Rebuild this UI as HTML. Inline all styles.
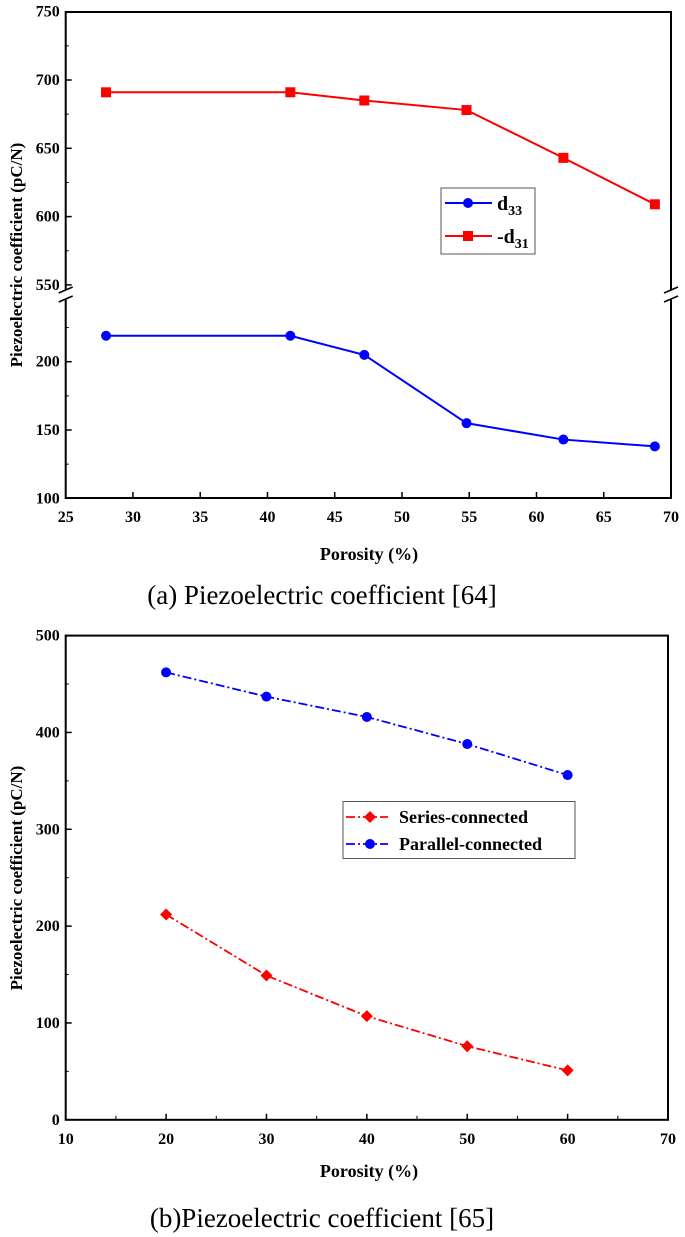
<!DOCTYPE html>
<html><head><meta charset="utf-8"><style>
html,body{margin:0;padding:0;background:#fff;}
svg{display:block;font-family:"Liberation Serif",serif;}
.tk{font-weight:bold;font-size:16px;}
</style></head><body>
<svg id="s" width="685" height="1237" viewBox="0 0 685 1237"></svg>
<script>
// Chart A data
const aX = [28, 41.7, 47.2, 54.8, 62, 68.8];
const aD31 = [691, 691, 685, 678, 643, 609];
const aD33 = [219, 219, 205, 155, 143, 138];
const aXTicks = [25,30,35,40,45,50,55,60,65,70];
const aYTicksUpper = [550,600,650,700,750];
const aYTicksLower = [100,150,200];
// Chart B data
const bX = [20,30,40,50,60];
const bParallel = [462,437,416,388,356];
const bSeries = [212,149,107,76,51];
const bXTicks = [10,20,30,40,50,60,70];
const bYTicks = [0,100,200,300,400,500];

const NS='http://www.w3.org/2000/svg';
const svg=document.getElementById('s');
function el(t,a,p){const e=document.createElementNS(NS,t);for(const k in a)e.setAttribute(k,a[k]);(p||svg).appendChild(e);return e;}
function txt(s,a,p){const e=el('text',a,p);e.textContent=s;return e;}

// ---------- Chart A ----------
const A={l:65.7,r:671,t:12,b:498};
const ax=v=>A.l+(v-25)/45*(A.r-A.l);
const ayU=v=>80+(700-v)*68.3/50;
const ayL=v=>361.7+(200-v)*68.3/50;
const gA=el('g',{});


const fa=el('rect',{x:A.l,y:A.t,width:A.r-A.l,height:A.b-A.t,fill:'none',stroke:'#000','stroke-width':2},gA);


el('rect',{x:A.l-8,y:290,width:A.r-A.l+16,height:9,fill:'#fff'},gA);
[A.l,A.r].forEach(x=>{
  el('line',{x1:x-7,y1:293,x2:x+7,y2:287,stroke:'#000','stroke-width':1.5},gA);
  el('line',{x1:x-7,y1:302,x2:x+7,y2:296,stroke:'#000','stroke-width':1.5},gA);
});
aXTicks.forEach(v=>{
  el('line',{x1:ax(v),y1:A.b,x2:ax(v),y2:A.b-6,stroke:'#000','stroke-width':1.5},gA);
  const t=txt(v,{x:ax(v),y:A.b+24,'text-anchor':'middle',class:'tk'},gA);
  
  
});
aYTicksUpper.forEach(v=>{
  el('line',{x1:A.l,y1:ayU(v),x2:A.l+6,y2:ayU(v),stroke:'#000','stroke-width':1.5},gA);
  if(v<750) el('line',{x1:A.l,y1:ayU(v+25),x2:A.l+3,y2:ayU(v+25),stroke:'#000','stroke-width':1},gA);
  const t=txt(v,{x:A.l-6,y:ayU(v)+5,'text-anchor':'end',class:'tk'},gA);
  
  
});
aYTicksLower.forEach(v=>{
  el('line',{x1:A.l,y1:ayL(v),x2:A.l+6,y2:ayL(v),stroke:'#000','stroke-width':1.5},gA);
  el('line',{x1:A.l,y1:ayL(v+25),x2:A.l+3,y2:ayL(v+25),stroke:'#000','stroke-width':1},gA);
  const t=txt(v,{x:A.l-6,y:ayL(v)+5,'text-anchor':'end',class:'tk'},gA);
  
  
});
const d31=el('polyline',{points:aX.map((x,i)=>ax(x)+','+ayU(aD31[i])).join(' '),fill:'none',stroke:'#f00','stroke-width':2},gA);


aX.forEach((x,i)=>{
  const m=el('rect',{x:ax(x)-5,y:ayU(aD31[i])-5,width:10,height:10,fill:'#f00'},gA);
  
  
});
const d33=el('polyline',{points:aX.map((x,i)=>ax(x)+','+ayL(aD33[i])).join(' '),fill:'none',stroke:'#00f','stroke-width':2},gA);


aX.forEach((x,i)=>{
  const m=el('circle',{cx:ax(x),cy:ayL(aD33[i]),r:5,fill:'#00f'},gA);
  
  
});
const lgA=el('g',{},gA);


el('rect',{x:441,y:188,width:94,height:66,fill:'#fff',stroke:'#555','stroke-width':1},lgA);
el('line',{x1:445,y1:203,x2:492,y2:203,stroke:'#00f','stroke-width':2},lgA);
el('circle',{cx:468,cy:203,r:5,fill:'#00f'},lgA);
const la1=txt('',{x:497,y:210,'font-weight':'bold','font-size':20},lgA);
la1.innerHTML='d<tspan dy="5" font-size="14">33</tspan>';
el('line',{x1:445,y1:236,x2:492,y2:236,stroke:'#f00','stroke-width':2},lgA);
el('rect',{x:463,y:231,width:10,height:10,fill:'#f00'},lgA);
const la2=txt('',{x:497,y:243,'font-weight':'bold','font-size':20},lgA);
la2.innerHTML='-d<tspan dy="5" font-size="14">31</tspan>';
const yta=txt('Piezoelectric coefficient (pC/N)',{x:0,y:0,transform:'translate(22,255) rotate(-90)','text-anchor':'middle','font-weight':'bold','font-size':17},gA);


const xta=txt('Porosity (%)',{x:369,y:560,'text-anchor':'middle','font-weight':'bold','font-size':18},gA);


const ca=txt('(a) Piezoelectric coefficient [64]',{x:322,y:604,'text-anchor':'middle','font-size':27},gA);



// ---------- Chart B ----------
const B={l:65.7,r:668,t:635.6,b:1119.8};
const bx=v=>B.l+(v-10)/60*(B.r-B.l);
const by=v=>B.b-v/500*(B.b-B.t);
const gB=el('g',{});


const fb=el('rect',{x:B.l,y:B.t,width:B.r-B.l,height:B.b-B.t,fill:'none',stroke:'#000','stroke-width':2},gB);


bXTicks.forEach(v=>{
  el('line',{x1:bx(v),y1:B.b,x2:bx(v),y2:B.b-6,stroke:'#000','stroke-width':1.5},gB);
  if(v<70) el('line',{x1:bx(v+5),y1:B.b,x2:bx(v+5),y2:B.b-4,stroke:'#000','stroke-width':1},gB);
  const t=txt(v,{x:bx(v),y:B.b+24,'text-anchor':'middle',class:'tk'},gB);
  
  
});
bYTicks.forEach(v=>{
  el('line',{x1:B.l,y1:by(v),x2:B.l+6,y2:by(v),stroke:'#000','stroke-width':1.5},gB);
  if(v<500) el('line',{x1:B.l,y1:by(v+50),x2:B.l+3,y2:by(v+50),stroke:'#000','stroke-width':1},gB);
  const t=txt(v,{x:B.l-6,y:by(v)+5,'text-anchor':'end',class:'tk'},gB);
  
  
});
const pl=el('polyline',{points:bX.map((x,i)=>bx(x)+','+by(bParallel[i])).join(' '),fill:'none',stroke:'#00f','stroke-width':1.8,'stroke-dasharray':'9,3,2,3'},gB);


bX.forEach((x,i)=>{
  const m=el('circle',{cx:bx(x),cy:by(bParallel[i]),r:5,fill:'#00f'},gB);
  
  
});
const sl=el('polyline',{points:bX.map((x,i)=>bx(x)+','+by(bSeries[i])).join(' '),fill:'none',stroke:'#f00','stroke-width':1.8,'stroke-dasharray':'9,3,2,3'},gB);


bX.forEach((x,i)=>{
  const X=bx(x),Y=by(bSeries[i]);
  const m=el('polygon',{points:`${X},${Y-6} ${X+6},${Y} ${X},${Y+6} ${X-6},${Y}`,fill:'#f00'},gB);
  
  
});
const lgB=el('g',{},gB);


el('rect',{x:343,y:801.5,width:232,height:57,fill:'#fff',stroke:'#555','stroke-width':1},lgB);
el('line',{x1:346,y1:817,x2:388,y2:817,stroke:'#f00','stroke-width':1.8,'stroke-dasharray':'9,3,2,3'},lgB);
el('polygon',{points:'370,811 376,817 370,823 364,817',fill:'#f00'},lgB);
txt('Series-connected',{x:399,y:823,'font-weight':'bold','font-size':18},lgB);
el('line',{x1:346,y1:844,x2:388,y2:844,stroke:'#00f','stroke-width':1.8,'stroke-dasharray':'9,3,2,3'},lgB);
el('circle',{cx:370,cy:844,r:5,fill:'#00f'},lgB);
txt('Parallel-connected',{x:399,y:850,'font-weight':'bold','font-size':18},lgB);
const ytb=txt('Piezoelectric coefficient (pC/N)',{x:0,y:0,transform:'translate(22,878) rotate(-90)','text-anchor':'middle','font-weight':'bold','font-size':17},gB);


const xtb=txt('Porosity (%)',{x:369,y:1177,'text-anchor':'middle','font-weight':'bold','font-size':18},gB);


const cb=txt('(b)Piezoelectric coefficient [65]',{x:322,y:1227,'text-anchor':'middle','font-size':27},gB);


</script>
</body></html>
